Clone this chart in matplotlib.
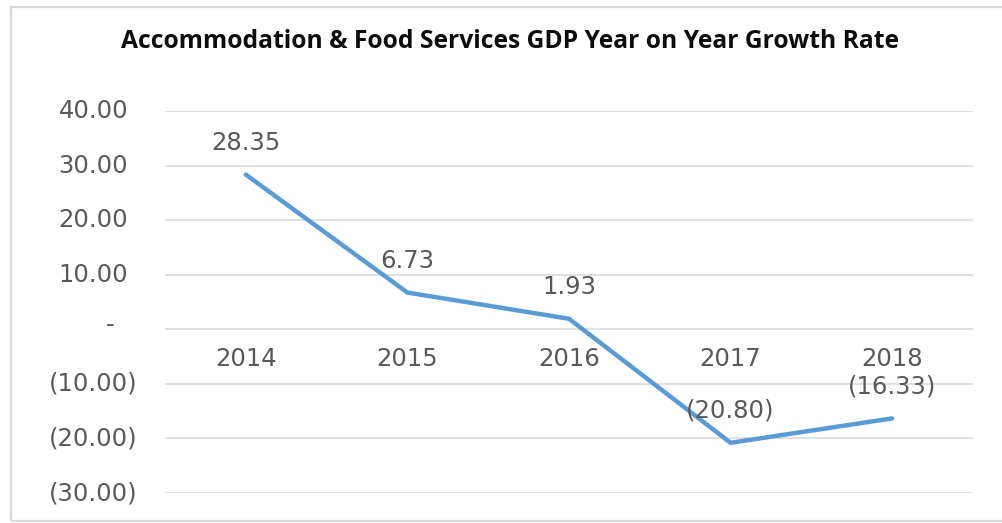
import matplotlib.pyplot as plt
from matplotlib.patches import Rectangle

# GDP growth data (year on year, %)
years = ["2014", "2015", "2016", "2017", "2018"]
growth = [28.35, 6.73, 1.93, -20.80, -16.33]
y_ticks = [40, 30, 20, 10, 0, -10, -20, -30]

title = "Accommodation & Food Services GDP Year on Year Growth Rate"
line_color = "#5B9BD5"
text_color = "#595959"
grid_color = "#D9D9D9"
fs = 17.5


def acct(v):
    # Excel accounting style: negatives in brackets, zero as a dash
    if v == 0:
        return "-"
    if v < 0:
        return f"({abs(v):,.2f})"
    return f"{v:,.2f}"


W, H = 1002, 523
fig = plt.figure(figsize=(W / 100, H / 100), dpi=100)
ax = fig.add_axes([165 / W, 1 - 493 / H, (973 - 165) / W, (493 - 111) / H])

x = list(range(len(years)))
ax.plot(x, growth, color=line_color, linewidth=3.2, solid_capstyle="round",
        solid_joinstyle="miter", zorder=3)

ax.set_xlim(-0.5, len(years) - 0.5)
ax.set_ylim(min(y_ticks), max(y_ticks))
ax.set_yticks(y_ticks)
ax.grid(axis="y", color=grid_color, linewidth=1.1)
ax.set_axisbelow(True)
ax.tick_params(left=False, bottom=False, labelleft=False, labelbottom=False)
for s in ax.spines.values():
    s.set_visible(False)

# y labels, positives padded like the accounting format
for v in y_ticks:
    if v == 0:
        ax.annotate(acct(v), xy=(0, v), xycoords=("axes fraction", "data"),
                    xytext=(-55 / 1.389, 3), textcoords="offset points",
                    ha="center", va="center", fontsize=fs, color=text_color)
    else:
        pad = 28 / 1.389 if v < 0 else 37 / 1.389
        ax.annotate(acct(v), xy=(0, v), xycoords=("axes fraction", "data"),
                    xytext=(-pad, 0), textcoords="offset points",
                    ha="right", va="center", fontsize=fs, color=text_color)

# category labels sit just under the zero line
for xi, yr in zip(x, years):
    ax.annotate(yr, xy=(xi, 0), xytext=(0, -30 / 1.389), textcoords="offset points",
                ha="center", va="center", fontsize=fs, color=text_color)

# value labels above each point
for xi, v in zip(x, growth):
    ax.annotate(acct(v), xy=(xi, v), xytext=(0, 32 / 1.389), textcoords="offset points",
                ha="center", va="center", fontsize=fs, color=text_color)

fig.text(510 / W, 1 - 42 / H, title, ha="center", va="center",
         fontsize=17.7, fontweight="bold", family="Open Sans", color="#0D0D0D")

fig.add_artist(Rectangle((11 / W, 2 / H), 2.0, 1 - 9 / H, transform=fig.transFigure,
                         fill=False, edgecolor=grid_color, linewidth=1.6))

fig.savefig("out.png", dpi=100, facecolor="white")
